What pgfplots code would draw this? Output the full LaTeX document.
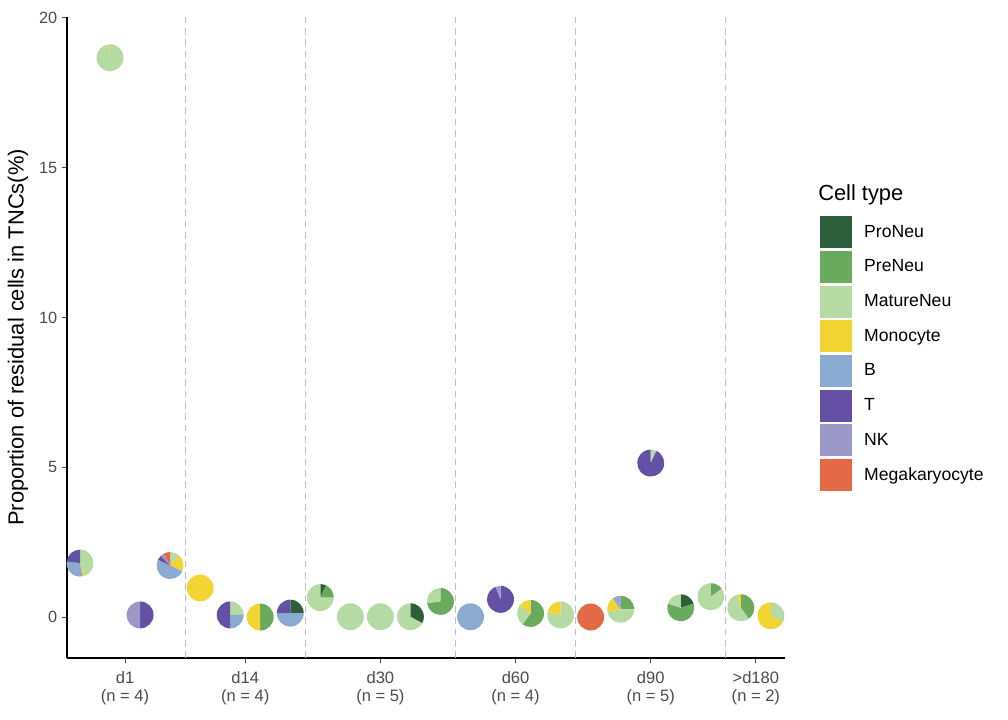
\documentclass[border=0pt]{standalone}
\usepackage{fontspec}
\setmainfont{Liberation Sans}
\usepackage{pgfplots}
\usepackage{pgfplotstable}
\pgfplotsset{compat=1.18}

\definecolor{cProNeu}{HTML}{2D5F3C}
\definecolor{cPreNeu}{HTML}{69AA5F}
\definecolor{cMatureNeu}{HTML}{B6DAA4}
\definecolor{cMonocyte}{HTML}{F2D432}
\definecolor{cB}{HTML}{8AAAD2}
\definecolor{cT}{HTML}{6450A5}
\definecolor{cNK}{HTML}{9B98C8}
\definecolor{cMega}{HTML}{E46946}

% x = sample index, y = proportion (%), f1..f8 = fractions of
% ProNeu, PreNeu, MatureNeu, Monocyte, B, T, NK, Megakaryocyte
\pgfplotstableread{
x y f1 f2 f3 f4 f5 f6 f7 f8
1 1.80 0 0 0.44 0.03 0.30 0.23 0 0
2 18.67 0 0 0.99 0.01 0 0 0 0
3 0.07 0 0 0 0 0 0.5 0.5 0
4 1.72 0 0 0.12 0.20 0.50 0.06 0.04 0.08
5 0.97 0 0 0 1 0 0 0 0
6 0.07 0 0 0.25 0 0.25 0.5 0 0
7 0.00 0 0.5 0 0.5 0 0 0 0
8 0.13 0.25 0 0 0 0.5 0.25 0 0
9 0.65 0.07 0.18 0.75 0 0 0 0 0
10 0.01 0 0 1 0 0 0 0 0
11 0.01 0 0 1 0 0 0 0 0
12 0.01 0.33 0 0.67 0 0 0 0 0
13 0.52 0 0.73 0.27 0 0 0 0 0
14 0.01 0 0 0 0 1 0 0 0
15 0.59 0 0 0 0 0 0.94 0.06 0
16 0.12 0 0.60 0.25 0.15 0 0 0 0
17 0.07 0 0 0.78 0.22 0 0 0 0
18 0.00 0 0 0 0 0 0 0 1
19 0.26 0 0.25 0.47 0.18 0.07 0 0.03 0
20 5.14 0 0 0.07 0 0 0.93 0 0
21 0.31 0.2 0.6 0.2 0 0 0 0 0
22 0.68 0 0.15 0.85 0 0 0 0 0
23 0.31 0 0.40 0.56 0.04 0 0 0 0
24 0.04 0 0 0.33 0.67 0 0 0 0
}\pietable

\pgfdeclareplotmark{pieslice}{%
  \pgfkeys{/pgf/fpu=true,/pgf/fpu/output format=fixed}%
  \pgfmathparse{\pieA}\let\pieAf\pgfmathresult
  \pgfmathparse{\pieB}\let\pieBf\pgfmathresult
  \pgfmathparse{abs(\pieA-\pieB)}\let\pieD\pgfmathresult
  \pgfkeys{/pgf/fpu=false}%
  \ifdim\pieD pt>0.05pt
    \pgfpathmoveto{\pgfpointorigin}%
    \pgfpathlineto{\pgfpointpolar{\pieAf}{\pgfplotmarksize}}%
    \pgfpatharc{\pieAf}{\pieBf}{\pgfplotmarksize}%
    \pgfpathclose
    \pgfusepathqfill
  \fi
}

\begin{document}
\begin{tikzpicture}
\useasboundingbox (0,0) rectangle (756pt,540pt);
\begin{axis}[
  at={(50.25pt,46.5pt)}, anchor=south west,
  scale only axis, width=538.5pt, height=480.75pt,
  xmin=0.567, xmax=24.47, ymin=-1.367, ymax=20.03,
  axis lines*=left,
  axis line style={line width=0.9pt, black},
  xtick={2.5,6.5,11,15.5,20,23.5},
  xticklabels={{d1\\(n = 4)},{d14\\(n = 4)},{d30\\(n = 5)},{d60\\(n = 4)},{d90\\(n = 5)},{>d180\\(n = 2)}},
  xticklabel style={align=center, text=black!70, yshift=-3.2pt, font=\fontsize{12.4}{12.9}\selectfont},
  ytick={0,5,10,15,20},
  yticklabel style={text=black!70, font=\fontsize{12.2}{12.75}\selectfont},
  tick align=outside, major tick length=3.75pt,
  tick style={black!70, line width=0.75pt},
  extra x ticks={4.5,8.5,13.5,17.5,22.5},
  extra x tick labels={},
  extra x tick style={grid=major, major tick length=0pt,
    major grid style={black!25, dash pattern=on 5pt off 3.5pt, line width=0.8pt}},
  ylabel={Proportion of residual cells in TNCs(\%)},
  ylabel style={at={(axis description cs:-0.0682,0.5)}, anchor=center,
    font=\fontsize{16.4}{18}\selectfont},
  clip=false,
  /pgf/number format/assume math mode=true,
  pie/.style={only marks, mark=pieslice, mark size=10.1pt},
  legend style={at={(axis description cs:1.0487,0.6896)}, anchor=north west,
    draw=none, fill=none, inner sep=0pt, row sep=2.0pt, column sep=7pt,
    font=\fontsize{13.2}{15}\selectfont, cells={anchor=west}},
  legend image code/.code={\fill[#1,draw=none] (0pt,-12pt) rectangle (24pt,12pt);},
]
\addplot[pie, color=cProNeu,
  visualization depends on={90 \as \pieA},
  visualization depends on={90-360*(\thisrow{f1}) \as \pieB}] table[x=x,y=y]{\pietable};
\addlegendentry{ProNeu}
\addplot[pie, color=cPreNeu,
  visualization depends on={90-360*(\thisrow{f1}) \as \pieA},
  visualization depends on={90-360*(\thisrow{f1}+\thisrow{f2}) \as \pieB}] table[x=x,y=y]{\pietable};
\addlegendentry{PreNeu}
\addplot[pie, color=cMatureNeu,
  visualization depends on={90-360*(\thisrow{f1}+\thisrow{f2}) \as \pieA},
  visualization depends on={90-360*(\thisrow{f1}+\thisrow{f2}+\thisrow{f3}) \as \pieB}] table[x=x,y=y]{\pietable};
\addlegendentry{MatureNeu}
\addplot[pie, color=cMonocyte,
  visualization depends on={90-360*(\thisrow{f1}+\thisrow{f2}+\thisrow{f3}) \as \pieA},
  visualization depends on={90-360*(\thisrow{f1}+\thisrow{f2}+\thisrow{f3}+\thisrow{f4}) \as \pieB}] table[x=x,y=y]{\pietable};
\addlegendentry{Monocyte}
\addplot[pie, color=cB,
  visualization depends on={90-360*(\thisrow{f1}+\thisrow{f2}+\thisrow{f3}+\thisrow{f4}) \as \pieA},
  visualization depends on={90-360*(\thisrow{f1}+\thisrow{f2}+\thisrow{f3}+\thisrow{f4}+\thisrow{f5}) \as \pieB}] table[x=x,y=y]{\pietable};
\addlegendentry{B}
\addplot[pie, color=cT,
  visualization depends on={90-360*(\thisrow{f1}+\thisrow{f2}+\thisrow{f3}+\thisrow{f4}+\thisrow{f5}) \as \pieA},
  visualization depends on={90-360*(\thisrow{f1}+\thisrow{f2}+\thisrow{f3}+\thisrow{f4}+\thisrow{f5}+\thisrow{f6}) \as \pieB}] table[x=x,y=y]{\pietable};
\addlegendentry{T}
\addplot[pie, color=cNK,
  visualization depends on={90-360*(\thisrow{f1}+\thisrow{f2}+\thisrow{f3}+\thisrow{f4}+\thisrow{f5}+\thisrow{f6}) \as \pieA},
  visualization depends on={90-360*(\thisrow{f1}+\thisrow{f2}+\thisrow{f3}+\thisrow{f4}+\thisrow{f5}+\thisrow{f6}+\thisrow{f7}) \as \pieB}] table[x=x,y=y]{\pietable};
\addlegendentry{NK}
\addplot[pie, color=cMega,
  visualization depends on={90-360*(\thisrow{f1}+\thisrow{f2}+\thisrow{f3}+\thisrow{f4}+\thisrow{f5}+\thisrow{f6}+\thisrow{f7}) \as \pieA},
  visualization depends on={90-360*(\thisrow{f1}+\thisrow{f2}+\thisrow{f3}+\thisrow{f4}+\thisrow{f5}+\thisrow{f6}+\thisrow{f7}+\thisrow{f8}) \as \pieB}] table[x=x,y=y]{\pietable};
\addlegendentry{Megakaryocyte}
\end{axis}
\node[anchor=west, inner sep=0pt, font=\fontsize{16.4}{18}\selectfont] at (613.5pt,393.75pt) {Cell type};
\end{tikzpicture}
\end{document}
